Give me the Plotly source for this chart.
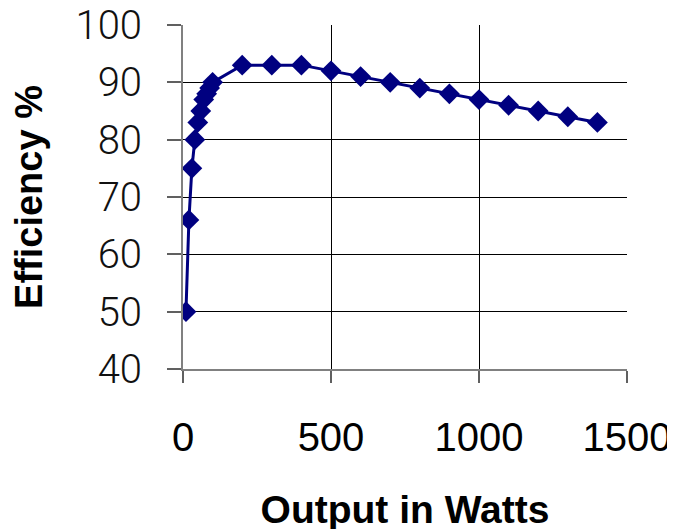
import plotly.graph_objects as go

# Dados
output_watts = [10, 20, 30, 40, 50, 60, 70, 80, 90, 100,
                200, 300, 400, 500, 600, 700, 800, 900, 1000,
                1100, 1200, 1300, 1400]
efficiency = [50, 66, 75, 80, 83, 85, 87, 88, 89, 90,
              93, 93, 93, 92, 91, 90, 89, 88, 87,
              86, 85, 84, 83]

x_ticks = [0, 500, 1000, 1500]
y_ticks = [40, 50, 60, 70, 80, 90, 100]

navy = "#000080"

fig = go.Figure()

fig.add_trace(go.Scatter(
    x=output_watts,
    y=efficiency,
    mode="lines+markers",
    line=dict(color=navy, width=3),
    marker=dict(symbol="diamond", size=16, color=navy),
    showlegend=False
))

# a página tem 8px de margem no body, por isso as margens são compensadas
fig.update_layout(
    width=675,
    height=529,
    margin=dict(l=175, r=56, t=17, b=168),
    paper_bgcolor="white",
    plot_bgcolor="white",
    xaxis=dict(
        range=[0, 1500],
        tickvals=x_ticks,
        automargin=False,
        ticklabeloverflow="allow",
        showgrid=True,
        gridcolor="#000000",
        gridwidth=1,
        zeroline=False,
        showline=True,
        linecolor="#808080",
        linewidth=2,
        ticks="outside",
        ticklen=12,
        tickcolor="#606060",
        tickwidth=2,
        ticklabelstandoff=20,
        tickfont=dict(family="Liberation Sans, Arial", size=40, color="black"),
        title=dict(text="<b>Output in Watts</b>", standoff=38,
                   font=dict(family="Liberation Sans, Arial", size=39, color="black")),
    ),
    yaxis=dict(
        range=[40, 100],
        tickvals=y_ticks,
        automargin=False,
        ticklabeloverflow="allow",
        showgrid=True,
        gridcolor="#000000",
        gridwidth=1,
        zeroline=False,
        showline=True,
        linecolor="#808080",
        linewidth=2,
        ticks="outside",
        ticklen=14,
        tickcolor="#606060",
        tickwidth=2,
        ticklabelstandoff=17,
        tickfont=dict(family="Roboto", weight=300, size=40, color="#111111"),
        title=dict(text="<b>Efficiency %</b>", standoff=25,
                   font=dict(family="Liberation Sans, Arial", size=38, color="black")),
    ),
)

fig.write_html("out.html")
